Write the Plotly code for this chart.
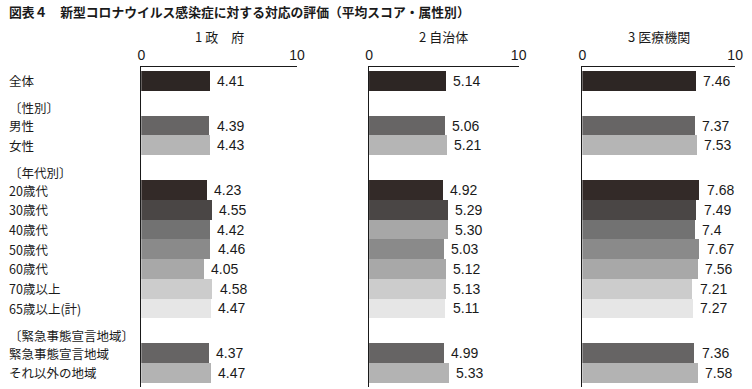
import plotly.graph_objects as go

# ---------------- data ----------------
title = "図表４　新型コロナウイルス感染症に対する対応の評価（平均スコア・属性別）"
panel_titles = ["1 政　府", "2 自治体", "3 医療機関"]

groups = [
    (None, ["全体"]),
    ("〔性別〕", ["男性", "女性"]),
    ("〔年代別〕", ["20歳代", "30歳代", "40歳代", "50歳代", "60歳代", "70歳以上", "65歳以上(計)"]),
    ("〔緊急事態宣言地域〕", ["緊急事態宣言地域", "それ以外の地域"]),
]

gov = ["4.41", "4.39", "4.43", "4.23", "4.55", "4.42", "4.46", "4.05", "4.58", "4.47", "4.37", "4.47"]
local = ["5.14", "5.06", "5.21", "4.92", "5.29", "5.30", "5.03", "5.12", "5.13", "5.11", "4.99", "5.33"]
medical = ["7.46", "7.37", "7.53", "7.68", "7.49", "7.4", "7.67", "7.56", "7.21", "7.27", "7.36", "7.58"]
panels = [gov, local, medical]
x_ticks = [0, 10]

# ---------------- style ----------------
base_colors = ["#2d2624", "#676565", "#b5b5b5", "#332a28", "#4a4645", "#727272",
               "#8a8a8a", "#a8a8a8", "#cccccc", "#e6e6e6", "#666464", "#b3b3b3"]
panel_colors = [list(base_colors), list(base_colors), list(base_colors)]
panel_colors[1][5] = "#a7a7a7"

W, H = 752, 389
x_dom_px = [(139.5, 297.7), (371, 523), (587.7, 743)]
y_top_px, y_bot_px = 67, 386.7
GAP = 2.27          # spacing between groups (in bar slots)
HEAD_OFF = 0.9      # header sits this far above its first bar

# layout positions of rows
row_names, row_pos, headers = [], [], []
cur = None
for head, items in groups:
    for j, name in enumerate(items):
        if cur is None:
            cur = 0.0
        elif j == 0:
            cur += GAP
        else:
            cur += 1.0
        if j == 0 and head is not None:
            headers.append((head, cur - HEAD_OFF))
        row_names.append(name)
        row_pos.append(cur)

y_range = [row_pos[-1] + 0.5 + 0.2, -0.5 - 0.2]

fig = go.Figure()
num_font = dict(family="Liberation Sans, Arial, sans-serif", size=14, color="#1a1a1a")
tick_font = dict(family="Liberation Sans, Arial, sans-serif", size=14, color="#1a1a1a")
jp_font = "Noto Sans CJK JP, sans-serif"
dark = "#1a1a1a"

for i, vals in enumerate(panels):
    xs = [float(v) for v in vals]
    sfx = "" if i == 0 else str(i + 1)
    fig.add_trace(go.Bar(
        x=xs, y=row_pos, orientation="h",
        marker=dict(color=panel_colors[i], line=dict(width=0)),
        xaxis="x" + sfx, yaxis="y" + sfx, showlegend=False,
        hoverinfo="skip",
    ))
    for v, p in zip(vals, row_pos):
        fig.add_annotation(x=float(v), y=p, xref="x" + sfx, yref="y" + sfx,
                           text=v, showarrow=False, xanchor="left", yanchor="middle",
                           xshift=5, font=num_font)
    d0, d1 = x_dom_px[i]
    dom = [d0 / W, d1 / W]
    xa = dict(domain=dom, range=[0, 10], side="top", showline=True, linecolor=dark,
              linewidth=1, tickvals=x_ticks, ticks="inside", ticklen=4, tickcolor=dark,
              showgrid=False, zeroline=False, tickfont=tick_font, anchor="y" + sfx,
              ticklabelstandoff=0, fixedrange=True)
    ya = dict(domain=[1 - y_bot_px / H, 1 - y_top_px / H], range=y_range, showline=True,
              linecolor=dark, linewidth=1, showticklabels=False, ticks="",
              showgrid=False, zeroline=False, anchor="x" + sfx, fixedrange=True)
    fig.update_layout(**{"xaxis" + sfx: xa, "yaxis" + sfx: ya})
    fig.add_annotation(x=(dom[0] + dom[1]) / 2, y=1 - 37 / H, xref="paper", yref="paper",
                       text=panel_titles[i], showarrow=False, xanchor="center", yanchor="middle",
                       font=dict(family=jp_font, size=13, color=dark))

for name, p in list(zip(row_names, row_pos)) + headers:
    fig.add_annotation(x=3.5 / W, y=p, xref="paper", yref="y", text=name, showarrow=False,
                       xanchor="left", yanchor="middle",
                       font=dict(family=jp_font, size=12.5, color=dark))

fig.add_annotation(x=3 / W, y=1 - 12 / H, xref="paper", yref="paper", text="<b>" + title + "</b>",
                   showarrow=False, xanchor="left", yanchor="middle",
                   font=dict(family=jp_font, size=12.8, color=dark))

fig.update_layout(width=W, height=H, margin=dict(l=0, r=0, t=0, b=0),
                  paper_bgcolor="white", plot_bgcolor="white", bargap=0)

fig.write_html("out.html", post_script="document.body.style.margin='0';",
               config={"displayModeBar": False})
